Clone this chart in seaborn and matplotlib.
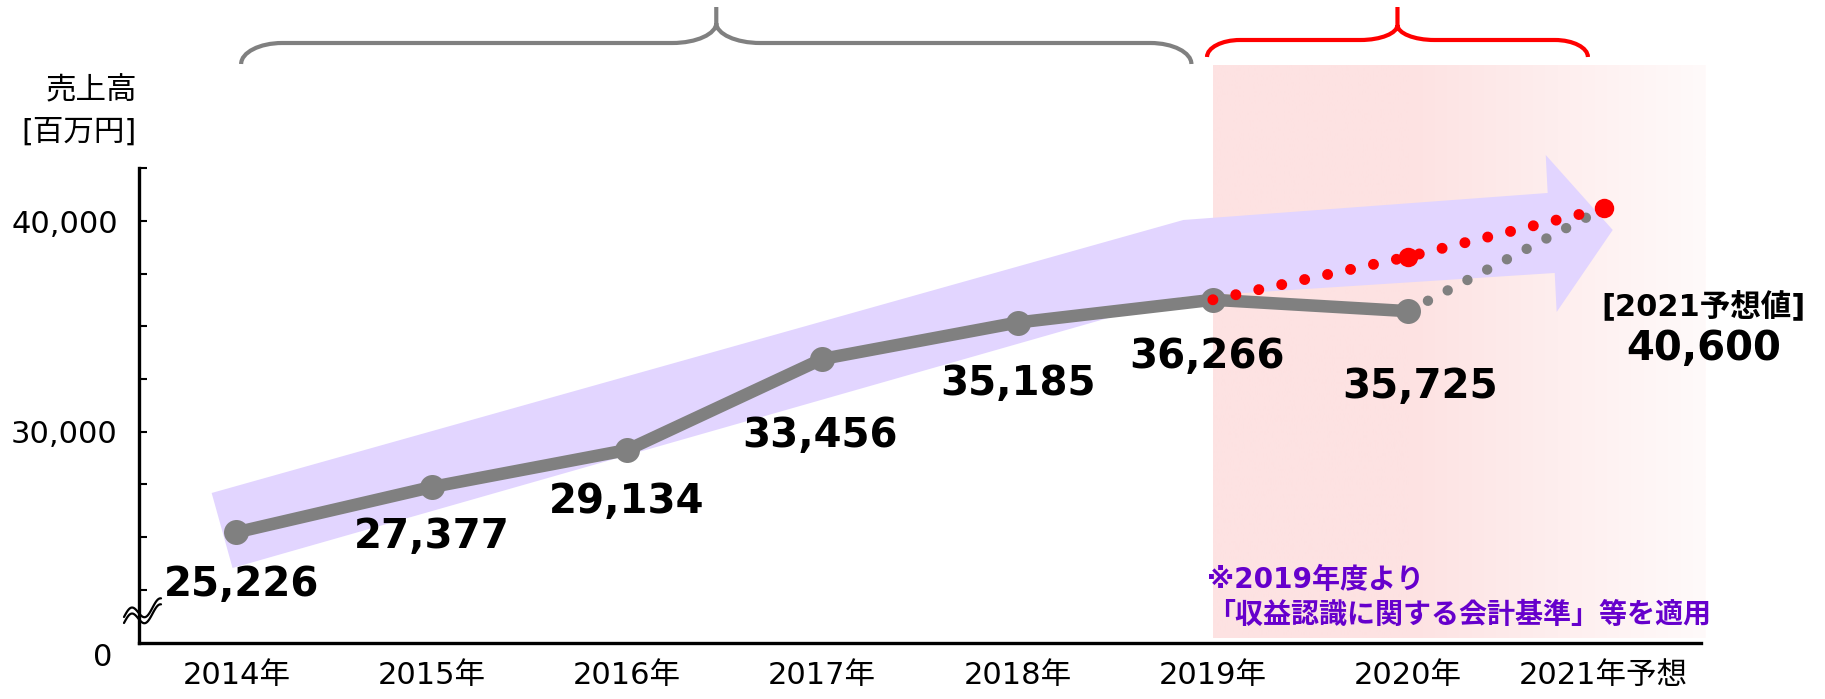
import numpy as np
import pandas as pd
import seaborn as sns
import matplotlib.pyplot as plt
from matplotlib.path import Path
from matplotlib.patches import PathPatch
from matplotlib.lines import Line2D
from matplotlib.transforms import IdentityTransform

sns.set_style("ticks")
plt.rcParams['font.family'] = ['DejaVu Sans', 'Noto Sans CJK JP']
plt.rcParams['text.color'] = 'black'
plt.rcParams['xtick.color'] = 'black'
plt.rcParams['ytick.color'] = 'black'

# data
years = ['2014年', '2015年', '2016年', '2017年', '2018年', '2019年', '2020年', '2021年予想']
sales = [25226, 27377, 29134, 33456, 35185, 36266, 35725]
forecast_2021 = 40600
plan_path = [36266, 38310, 40600]      # red dotted path 2019 -> 2021
trend_path = [35725, 40600]            # gray dotted 2020 -> 2021
y_ticks = [22500, 25000, 27500, 30000, 32500, 35000, 37500, 40000, 42500]
y_ticklabels = ['', '', '', '30,000', '', '', '', '40,000', '']

W, H = 1825, 699
fig = plt.figure(figsize=(W / 100, H / 100), dpi=100)
ax = fig.add_axes([138.6 / W, 1 - 642.5 / H, (1701.2 - 138.6) / W, (642.5 - 168.4) / H])

# pink background from 2019 onwards, fading to white
n = 300
t = np.linspace(0, 1, n)
w = np.clip((t - 0.4) / 0.6, 0, 1)[:, None]
left = np.array([253, 226, 226]) / 255
right = np.array([255, 250, 250]) / 255
grad = (left * (1 - w) + right * w)[None, :, :]
im = ax.imshow(grad, extent=[5, 7.52, 20213, 47360], aspect='auto', zorder=0,
               interpolation='bilinear')
im.set_clip_on(False)

# big lavender arrow
arrow_x = [-0.126, 4.849, 6.714, 6.704, 7.047, 6.760, 6.750, 4.841, -0.019]
arrow_y = [27096, 40052, 41334, 43137, 39578, 35686, 37537, 36398, 23536]
ax.fill(arrow_x, arrow_y, color='#E2D5FF', lw=0, zorder=1, clip_on=False)

# dotted forecast lines
dots = (0, (0.001, 2.14))
sns.lineplot(x=[6, 7], y=trend_path, ax=ax, color='#808080', lw=7.5,
             linestyle=dots, dash_capstyle='round', zorder=3)
df = pd.DataFrame({'x': range(len(sales)), 'sales': sales})
sns.lineplot(data=df, x='x', y='sales', ax=ax, color='#808080', lw=9,
             marker='o', markersize=18, markeredgewidth=0, zorder=4)
sns.lineplot(x=[5, 6, 7], y=plan_path, ax=ax, color='red', lw=7.9,
             linestyle=dots, dash_capstyle='round', zorder=5)
ax.plot([6, 7], plan_path[1:], 'o', color='red', ms=14, mew=0, zorder=6, clip_on=False)

# value labels
label_dx = [5, 0, 0, -2, 0, -6, 12]
label_dy = [64, 61, 63, 88, 72, 68, 87]
for i, v in enumerate(sales):
    ax.annotate(f"{v:,}", (i, v), xytext=(label_dx[i] * 0.72, -label_dy[i] * 0.72),
                textcoords='offset points', ha='center', va='baseline',
                fontsize=29, fontweight='bold', zorder=7)
ax.annotate('[2021予想値]', (7, forecast_2021), xytext=(100 * 0.72, -106.5 * 0.72),
            textcoords='offset points', ha='center', va='baseline',
            fontsize=22, fontweight='bold', annotation_clip=False)
ax.annotate(f"{forecast_2021:,}", (7, forecast_2021), xytext=(100 * 0.72, -151.5 * 0.72),
            textcoords='offset points', ha='center', va='baseline',
            fontsize=29, fontweight='bold', annotation_clip=False)

ax.set_xlim(-0.5, 7.5)
ax.set_ylim(20000, 42500)
ax.set_xlabel('')
ax.set_ylabel('')
ax.set_xticks(range(len(years)), years, fontsize=22)
ax.set_yticks(y_ticks, y_ticklabels, fontsize=22)
ax.tick_params(axis='x', length=0, pad=13)
ax.tick_params(axis='y', direction='in', length=5.8, width=1.5, pad=15, color='black')
sns.despine(ax=ax)
for s in ['left', 'bottom']:
    ax.spines[s].set_linewidth(2.4)
    ax.spines[s].set_color('black')

# note
fig.text(1207, H - 580, '※2019年度より', color='#6600CC', fontsize=20.2, fontweight='bold',
         ha='left', va='center', transform=IdentityTransform())
fig.text(1207, H - 615, '「収益認識に関する会計基準」等を適用', color='#6600CC', fontsize=20.2,
         fontweight='bold', ha='left', va='center', transform=IdentityTransform())

# axis title and zero
fig.text(137, H - 91, '売上高', fontsize=22, ha='right', va='center', transform=IdentityTransform())
fig.text(137, H - 132, '[百万円]', fontsize=22, ha='right', va='center', transform=IdentityTransform())
fig.text(112, H - 657, '0', fontsize=22, ha='right', va='center', transform=IdentityTransform())

# axis break mark
tt = np.linspace(0, 1, 60)
for off in (0, 6):
    bx = 124 + 37 * tt
    by = 617 + off - 12 * tt - 7 * np.sin(2 * np.pi * 1.3 * tt)
    fig.add_artist(Line2D(bx, H - by, color='black', lw=1.6, transform=IdentityTransform()))


def brace(xd0, xd1, y_end, y_h, y_cusp, y_tip, r_end, r_mid, color):
    x0 = ax.transData.transform((xd0, 0))[0]
    x1 = ax.transData.transform((xd1, 0))[0]
    xc = (x0 + x1) / 2
    k = 0.55
    verts = [
        (x0, y_end), (x0, y_end + k * (y_h - y_end)), (x0 + r_end * (1 - k), y_h), (x0 + r_end, y_h),
        (xc - r_mid, y_h),
        (xc - r_mid * (1 - k), y_h), (xc, y_cusp + k * (y_h - y_cusp)), (xc, y_cusp),
        (xc, y_tip),
        (xc, y_cusp),
        (xc, y_cusp + k * (y_h - y_cusp)), (xc + r_mid * (1 - k), y_h), (xc + r_mid, y_h),
        (x1 - r_end, y_h),
        (x1 - r_end * (1 - k), y_h), (x1, y_end + k * (y_h - y_end)), (x1, y_end),
    ]
    codes = [Path.MOVETO, Path.CURVE4, Path.CURVE4, Path.CURVE4, Path.LINETO,
             Path.CURVE4, Path.CURVE4, Path.CURVE4, Path.LINETO, Path.MOVETO,
             Path.CURVE4, Path.CURVE4, Path.CURVE4, Path.LINETO,
             Path.CURVE4, Path.CURVE4, Path.CURVE4]
    verts = [(x, H - y) for x, y in verts]
    fig.add_artist(PathPatch(Path(verts, codes), fill=False, edgecolor=color, lw=3,
                             transform=IdentityTransform()))


brace(0.025, 4.89, 64, 43, 23, 7, 41, 44, '#808080')
brace(4.97, 6.92, 57, 40, 25, 7, 33, 37, 'red')

fig.savefig('out.png', dpi=100)
